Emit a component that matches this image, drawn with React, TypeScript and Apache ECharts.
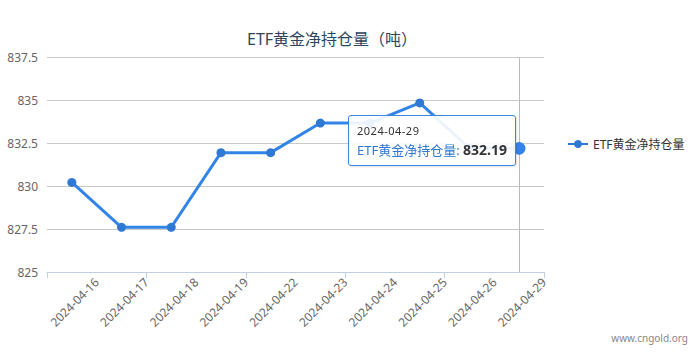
import React, { useEffect, useRef } from "react";
import * as echarts from "echarts";

const dates = [
  "2024-04-16", "2024-04-17", "2024-04-18", "2024-04-19", "2024-04-22",
  "2024-04-23", "2024-04-24", "2024-04-25", "2024-04-26", "2024-04-29",
];
const holdings = [830.21, 827.6, 827.6, 831.94, 831.94, 833.66, 833.66, 834.83, 832.2, 832.19];
const seriesName = "ETF黄金净持仓量";
const titleText = "ETF黄金净持仓量（吨）";
const yTicks = { min: 825, max: 837.5, interval: 2.5 };

const FONT = "'Noto Sans', 'Noto Sans CJK SC', sans-serif";
const BLUE = "#2f78d4";

export default function App() {
  const ref = useRef<HTMLDivElement>(null);
  useEffect(() => {
    if (!ref.current) return;
    const chart = echarts.init(ref.current, undefined, { renderer: "svg" });
    chart.setOption({
      animation: false,
      textStyle: { fontFamily: FONT },
      title: {
        text: titleText,
        left: 242,
        top: 26,
        textStyle: { fontSize: 16, fontWeight: "normal", color: "#2e4560", fontFamily: FONT },
      },
      legend: {
        orient: "vertical",
        left: 562,
        top: 133,
        itemWidth: 20,
        itemHeight: 10,
        textStyle: { fontSize: 12, color: "#333", fontFamily: FONT },
        data: [seriesName],
      },
      grid: { left: 47, right: 152, top: 57, bottom: 83, containLabel: false },
      tooltip: {
        trigger: "axis",
        alwaysShowContent: true,
        position: [348, 115],
        backgroundColor: "rgba(255,255,255,0.9)",
        borderColor: "#3a86e0",
        borderWidth: 1,
        padding: [5, 8],
        extraCssText:
          "border:1px solid #3a86e0 !important;border-radius:3px;box-shadow:1px 1px 2px rgba(0,0,0,0.12) !important;",
        axisPointer: { type: "line", z: 1, lineStyle: { color: "#bbb", width: 1, type: "solid" } },
        formatter: (params: any) => {
          const p = Array.isArray(params) ? params[0] : params;
          return (
            `<div style="font-family:${FONT};line-height:19px">` +
            `<div style="font-size:11px;color:#333;letter-spacing:0.5px">${p.name}</div>` +
            `<div style="font-size:13px"><span style="color:${BLUE}">${p.seriesName}: </span>` +
            `<b style="color:#333;font-size:14px">${p.value}</b></div></div>`
          );
        },
      },
      xAxis: [
        {
          type: "category",
          data: dates,
          boundaryGap: true,
          axisLine: { lineStyle: { color: "#c0d0e0" } },
          axisTick: { show: true, length: 6, lineStyle: { color: "#c0d0e0" } },
          axisLabel: { show: false },
          splitLine: { show: false },
        },
        {
          type: "category",
          data: [""].concat(dates),
          boundaryGap: false,
          position: "bottom",
          axisLine: { show: false },
          axisTick: { show: false },
          axisPointer: { show: false },
          axisLabel: {
            interval: 0,
            rotate: 45,
            margin: 8,
            fontSize: 12,
            color: "#666",
            fontFamily: FONT,
          },
        },
      ],
      yAxis: {
        type: "value",
        min: yTicks.min,
        max: yTicks.max,
        interval: yTicks.interval,
        axisLine: { show: false },
        axisTick: { show: false },
        axisLabel: { fontSize: 12, color: "#666", margin: 9, fontFamily: FONT },
        splitLine: { lineStyle: { color: "#c8c8c8" } },
      },
      series: [
        {
          name: seriesName,
          type: "line",
          xAxisIndex: 0,
          z: 3,
          data: holdings,
          symbol: "circle",
          symbolSize: 9,
          color: BLUE,
          lineStyle: { width: 3, color: BLUE },
          itemStyle: { color: BLUE },
          emphasis: { scale: 1.4 },
        },
      ],
      graphic: [
        {
          type: "text",
          right: 8,
          bottom: 12,
          style: { text: "www.cngold.org", fontSize: 10, fill: "#888", fontFamily: FONT },
        },
      ],
    });
    chart.dispatchAction({ type: "showTip", seriesIndex: 0, dataIndex: dates.length - 1 });
    return () => chart.dispose();
  }, []);
  return (
    <div style={{ position: "absolute", left: 0, top: 0, width: 696, height: 355 }}>
      <div ref={ref} style={{ width: 696, height: 355, background: "#fff" }} />
    </div>
  );
}
